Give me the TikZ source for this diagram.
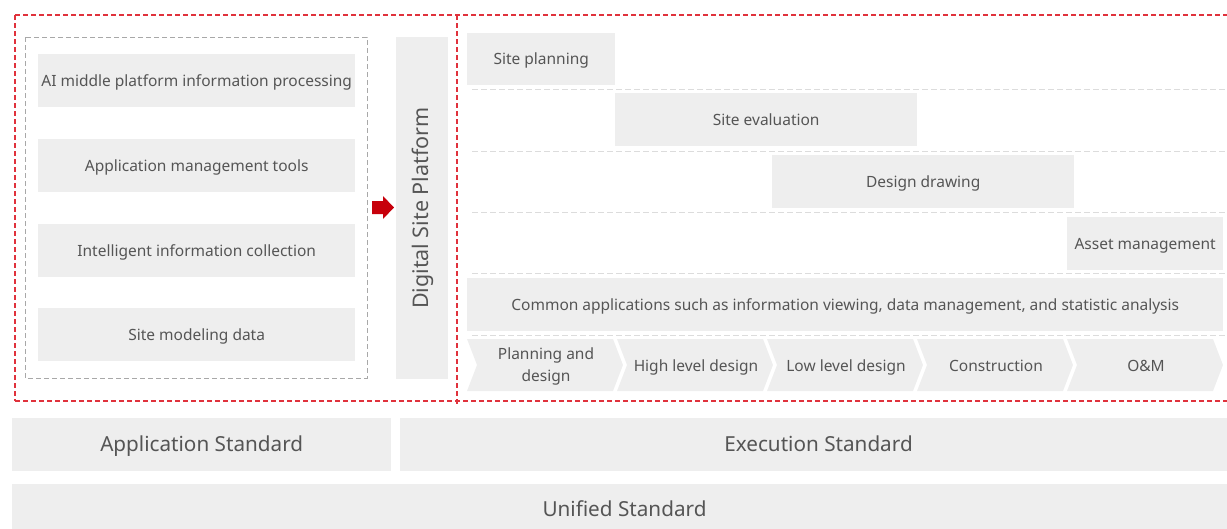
\documentclass[tikz,border=0pt]{standalone}
\usepackage{fontspec}
\setmainfont{Noto Sans}
\definecolor{boxfill}{HTML}{EEEEEE}
\definecolor{txt}{HTML}{555555}
\definecolor{reddash}{HTML}{E0323C}
\definecolor{arrowred}{HTML}{C7000B}
\definecolor{graydash}{HTML}{A8A8A8}
\definecolor{sepdash}{HTML}{DCDCDC}
% #1 name, #2 x, #3 y, #4 w, #5 h, #6 text style, #7 baseline offset (pt down), #8 text
\newcommand\mybox[8]{%
  \node[boxshape,minimum width=#4,minimum height=#5] (#1) at (#2,#3) {};
  \node[#6,anchor=base] (#1-t) at ([yshift=-#7pt]#1.center) {#8};}
\begin{document}
\begin{tikzpicture}[x=1pt,y=-1pt,
  boxshape/.style={fill=boxfill,draw=none,anchor=north west,inner sep=0pt},
  smalltxt/.style={text=txt,inner sep=0pt,font=\fontsize{15.5}{18}\selectfont},
  bigtxt/.style={text=txt,inner sep=0pt,font=\fontsize{20.7}{24}\selectfont},
  chev/.style={fill=boxfill,draw=none},
  reddashed/.style={draw=reddash,line width=1.3pt,dash pattern=on 5pt off 3pt},
  graydashed/.style={draw=graydash,line width=1pt,dash pattern=on 5pt off 3pt},
  sep/.style={draw=sepdash,line width=1pt,dash pattern=on 6pt off 3pt}]
\useasboundingbox (0,0) rectangle (1227,528);
% outer red dashed frames
\draw[reddashed] (15,15) -- (1227,15);
\draw[reddashed] (15,401) -- (1227,401);
\draw[reddashed] (15,15) -- (15,401);
\draw[reddashed] (457,15) -- (457,404);
% inner gray dashed frame
\draw[graydashed] (25,37) rectangle (367,378);
% left boxes
\mybox{ai}{38}{54}{317}{53}{smalltxt}{5.5}{AI middle platform information processing}
\mybox{amt}{38}{139}{317}{53}{smalltxt}{5.5}{Application management tools}
\mybox{iic}{38}{224}{317}{53}{smalltxt}{5.5}{Intelligent information collection}
\mybox{smd}{38}{308}{317}{53}{smalltxt}{5.5}{Site modeling data}
% platform
\node[boxshape,minimum width=52,minimum height=342] (dsp) at (396,37) {};
\node[rotate=90,anchor=base,text=txt,font=\fontsize{21.5}{24}\selectfont,inner sep=0pt] (dsplabel) at ([xshift=6.5pt]dsp.center) {Digital Site Platform};
% red arrow
\fill[arrowred] (372,201) -- (383,201) -- (383,196) -- (394,207.5) -- (383,219) -- (383,214) -- (372,214) -- cycle;
% separators
\foreach \yy in {89,151,212,273,335} {\draw[sep] (472,\yy) -- (1227,\yy);}
% right boxes
\mybox{sp}{467}{33}{148}{52}{smalltxt}{5.5}{Site planning}
\mybox{se}{615}{93}{302}{53}{smalltxt}{5.5}{Site evaluation}
\mybox{dd}{772}{155}{302}{53}{smalltxt}{5.5}{Design drawing}
\mybox{am}{1067}{217}{156}{53}{smalltxt}{5.5}{Asset management}
\mybox{ca}{467}{278}{756}{53}{smalltxt}{5.5}{Common applications such as information viewing, data management, and statistic analysis}
% chevrons
\foreach \i in {0,...,4} {
  \pgfmathsetmacro{\xa}{467+150*\i}
  \fill[chev] (\xa,339) -- ({\xa+146},339) -- ({\xa+156},365) -- ({\xa+146},391) -- (\xa,391) -- ({\xa+10},365) -- cycle;
}
\node[smalltxt,align=center,font=\fontsize{15.5}{22}\selectfont] (c1) at (546,366.5) {Planning and\\design};
\node[smalltxt,anchor=base] (c2) at (696,371) {High level design};
\node[smalltxt,anchor=base] (c3) at (846,371) {Low level design};
\node[smalltxt,anchor=base] (c4) at (996,371) {Construction};
\node[smalltxt,anchor=base] (c5) at (1146,371) {O\&M};
% bottom standards
\mybox{as}{12}{418}{379}{53}{bigtxt}{6.5}{Application Standard}
\node[boxshape,minimum width=827,minimum height=53] (es) at (400,418) {};
\node[bigtxt,anchor=base] (es-t) at (818.5,451) {Execution Standard};
\node[boxshape,minimum width=1215,minimum height=48] (us) at (12,484) {};
\node[bigtxt,anchor=base] (us-t) at (624.5,516.5) {Unified Standard};
\end{tikzpicture}
\end{document}
